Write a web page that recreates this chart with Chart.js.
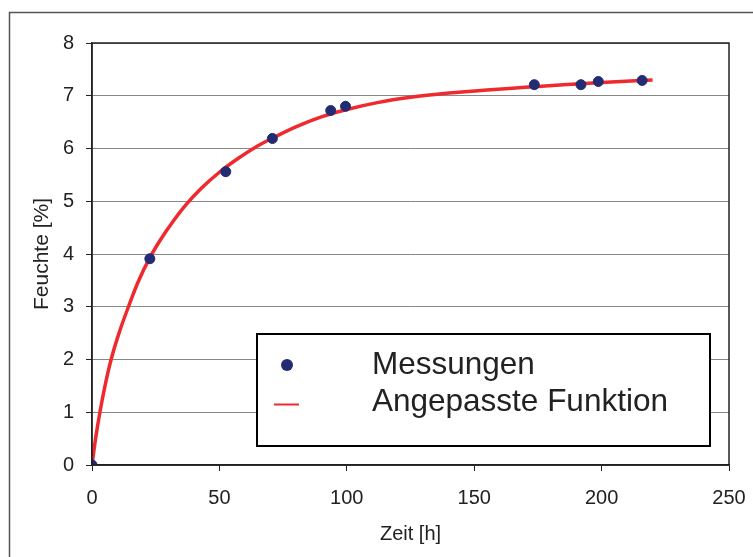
<!DOCTYPE html>
<html>
<head>
<meta charset="utf-8">
<script src="https://cdn.jsdelivr.net/npm/chart.js@4/dist/chart.umd.min.js"></script>
<style>
  body { margin: 0; background: #fff; }
  canvas { display: block; }
</style>
</head>
<body>
<canvas id="feuchte" width="753" height="557"></canvas>
<script>
// Messwerte
const messZeit = [0, 22.7, 52.5, 70.8, 93.7, 99.5, 173.6, 191.9, 198.7, 215.9];
const messFeuchte = [0, 3.91, 5.56, 6.19, 6.72, 6.80, 7.21, 7.21, 7.27, 7.29];

// angepasste Kurve
const fitZeit = [0, 1.4, 3.1, 5.1, 7.5, 10.6, 14.3, 18, 22.7, 27, 32, 37, 43, 50, 57, 64, 71, 80, 90, 100, 112, 125, 140, 155, 170, 185, 200, 220];
const fitFeuchte = [0, 0.5, 1.0, 1.5, 2.0, 2.5, 3.0, 3.46, 3.93, 4.28, 4.63, 4.94, 5.25, 5.55, 5.8, 6.02, 6.2, 6.41, 6.6, 6.74, 6.87, 6.97, 7.05, 7.11, 7.16, 7.21, 7.25, 7.30];

const xTicks = [0, 50, 100, 150, 200, 250];
const yTicks = [0, 1, 2, 3, 4, 5, 6, 7, 8];

const toPoints = (xs, ys) => xs.map((x, i) => ({ x: x, y: ys[i] }));

const rahmen = {
  id: 'rahmen',
  beforeDraw(chart) {
    const ctx = chart.ctx;
    ctx.save();
    ctx.fillStyle = '#fff';
    ctx.fillRect(0, 0, chart.width, chart.height);
    ctx.strokeStyle = '#555';
    ctx.lineWidth = 1.5;
    ctx.strokeRect(9.5, 12.5, 800, 600);
    ctx.restore();
  },
  afterDraw(chart) {
    const ctx = chart.ctx;
    const a = chart.chartArea;
    ctx.save();
    ctx.strokeStyle = '#222';
    ctx.lineWidth = 1.5;
    ctx.strokeRect(a.left, a.top, a.right - a.left, a.bottom - a.top);

    // Legende im Diagramm
    ctx.fillStyle = '#fff';
    ctx.fillRect(257, 334, 453, 112);
    ctx.strokeStyle = '#000';
    ctx.lineWidth = 2;
    ctx.strokeRect(257, 334, 453, 112);

    const ds = chart.data.datasets;
    ctx.fillStyle = ds[0].backgroundColor;
    ctx.beginPath();
    ctx.arc(287, 365, 6, 0, Math.PI * 2);
    ctx.fill();

    ctx.strokeStyle = ds[1].borderColor;
    ctx.lineWidth = 2;
    ctx.beginPath();
    ctx.moveTo(274, 404.5);
    ctx.lineTo(299, 404.5);
    ctx.stroke();

    ctx.fillStyle = '#222';
    ctx.font = '31.5px "Liberation Sans", Arial, sans-serif';
    ctx.textBaseline = 'alphabetic';
    ctx.fillText(ds[0].label, 372, 374);
    ctx.fillText(ds[1].label, 372, 411);
    ctx.restore();
  }
};

const schrift = size => ({ family: '"Liberation Sans", Arial', size: size });

new Chart(document.getElementById('feuchte'), {
  type: 'scatter',
  data: {
    datasets: [{
      label: 'Messungen',
      data: toPoints(messZeit, messFeuchte),
      backgroundColor: '#232b73',
      borderColor: '#232b73',
      pointRadius: 5,
      pointHoverRadius: 5,
      showLine: false
    }, {
      label: 'Angepasste Funktion',
      data: toPoints(fitZeit, fitFeuchte),
      borderColor: '#ee2a2e',
      backgroundColor: '#ee2a2e',
      borderWidth: 3.5,
      pointRadius: 0,
      showLine: true,
      cubicInterpolationMode: 'monotone'
    }]
  },
  options: {
    responsive: false,
    animation: false,
    layout: { padding: { left: 10, right: 24, top: 43, bottom: 0 } },
    plugins: { legend: { display: false }, tooltip: { enabled: false } },
    scales: {
      x: {
        type: 'linear',
        min: 0,
        max: 250,
        afterBuildTicks: s => { s.ticks = xTicks.map(v => ({ value: v })); },
        afterFit: s => { s.height = 92; s.paddingLeft = 0; s.paddingRight = 0; },
        grid: { drawOnChartArea: false, tickLength: 6, color: '#222' },
        border: { color: '#222', width: 1.5 },
        ticks: { color: '#222', padding: 15, font: schrift(20) },
        title: {
          display: true,
          text: 'Zeit [h]',
          color: '#222',
          font: schrift(20),
          padding: { top: 0, bottom: 11 }
        }
      },
      y: {
        min: 0,
        max: 8,
        afterBuildTicks: s => { s.ticks = yTicks.map(v => ({ value: v })); },
        afterFit: s => { s.width = 82; },
        grid: { color: '#888', tickLength: 6, tickColor: '#222', lineWidth: 1 },
        border: { color: '#222', width: 1.5 },
        ticks: { color: '#222', padding: 12, font: schrift(20) },
        title: {
          display: true,
          text: 'Feuchte [%]',
          color: '#222',
          font: schrift(21),
          padding: { top: 20, bottom: 0 }
        }
      }
    }
  },
  plugins: [rahmen]
});
</script>
</body>
</html>
